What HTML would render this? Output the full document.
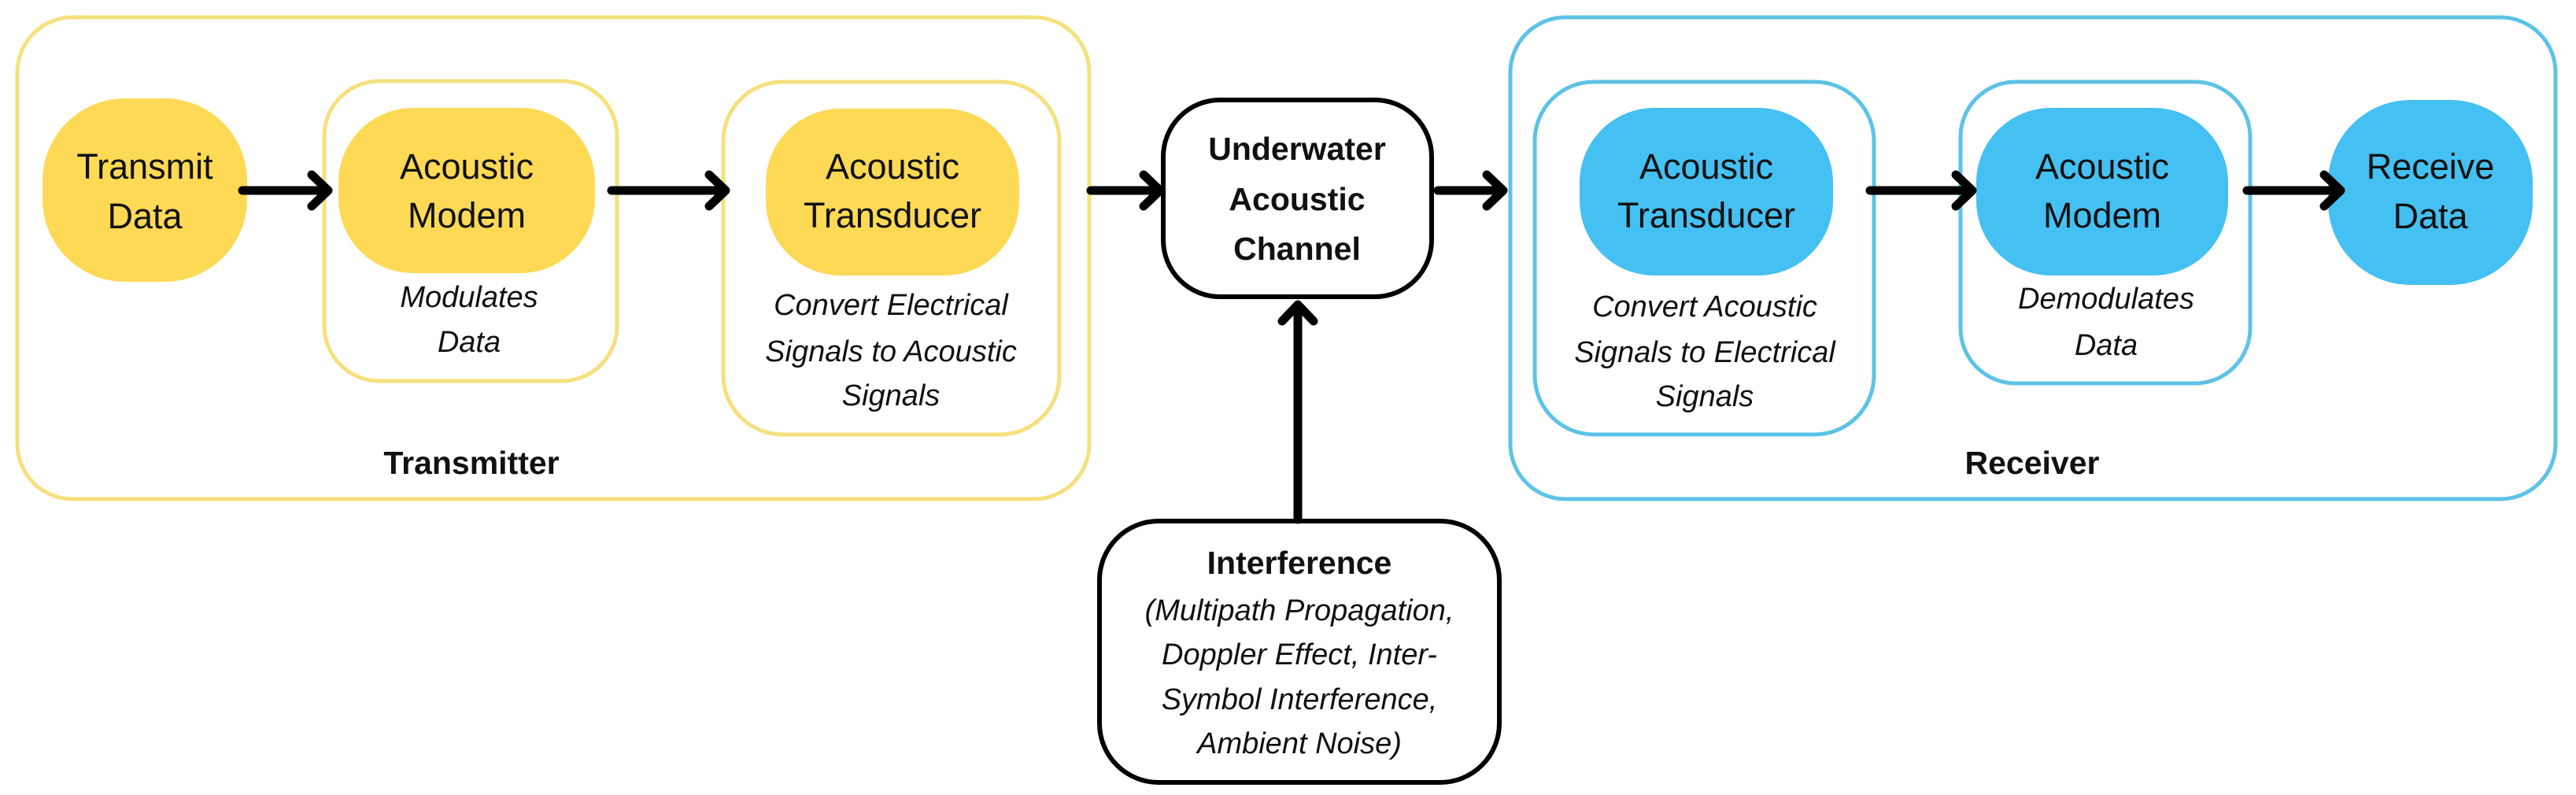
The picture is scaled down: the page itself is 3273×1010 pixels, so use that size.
<!DOCTYPE html>
<html><head><meta charset="utf-8"><style>
html,body{margin:0;padding:0;background:#fff;}
svg{display:block;}
text{font-family:"Liberation Sans",sans-serif;fill:#111;}
.n{font-size:45px;}
.i{font-size:38px;font-style:italic;}
.b{font-size:41px;font-weight:bold;}
</style></head><body>
<svg width="3273" height="1010" viewBox="0 0 3273 1010" xmlns="http://www.w3.org/2000/svg">
<rect x="0" y="0" width="3273" height="1010" fill="#fff"/>
<!-- Transmitter -->
<rect x="22" y="22" width="1362" height="612" rx="70" fill="none" stroke="#f6e07e" stroke-width="5"/>
<rect x="54" y="125" width="260" height="233" rx="105" fill="#fdd955"/>
<rect x="412" y="103" width="372" height="381" rx="70" fill="none" stroke="#f6e07e" stroke-width="5"/>
<rect x="430" y="137" width="326" height="210" rx="95" fill="#fdd955"/>
<rect x="919" y="104" width="427" height="448" rx="75" fill="none" stroke="#f6e07e" stroke-width="5"/>
<rect x="973" y="138" width="322" height="212" rx="95" fill="#fdd955"/>
<text class="n" x="184" y="227" text-anchor="middle">Transmit</text>
<text class="n" x="184" y="290" text-anchor="middle">Data</text>
<text class="n" x="593" y="227" text-anchor="middle">Acoustic</text>
<text class="n" x="593" y="289" text-anchor="middle">Modem</text>
<text class="i" x="596" y="390" text-anchor="middle">Modulates</text>
<text class="i" x="596" y="447" text-anchor="middle">Data</text>
<text class="n" x="1134" y="227" text-anchor="middle">Acoustic</text>
<text class="n" x="1134" y="289" text-anchor="middle">Transducer</text>
<text class="i" x="1132" y="400" text-anchor="middle">Convert Electrical</text>
<text class="i" x="1132" y="459" text-anchor="middle">Signals to Acoustic</text>
<text class="i" x="1132" y="515" text-anchor="middle">Signals</text>
<text class="b" x="599" y="602" text-anchor="middle">Transmitter</text>
<!-- Receiver -->
<rect x="1919" y="22" width="1328" height="612" rx="70" fill="none" stroke="#5cc3e6" stroke-width="5"/>
<rect x="1950" y="104" width="431" height="448" rx="75" fill="none" stroke="#5cc3e6" stroke-width="5"/>
<rect x="2007" y="137" width="322" height="213" rx="95" fill="#45c0f2"/>
<rect x="2491" y="104" width="368" height="383" rx="70" fill="none" stroke="#5cc3e6" stroke-width="5"/>
<rect x="2511" y="137" width="320" height="213" rx="95" fill="#45c0f2"/>
<rect x="2958" y="127" width="260" height="235" rx="105" fill="#45c0f2"/>
<text class="n" x="2168" y="227" text-anchor="middle">Acoustic</text>
<text class="n" x="2168" y="289" text-anchor="middle">Transducer</text>
<text class="i" x="2166" y="402" text-anchor="middle">Convert Acoustic</text>
<text class="i" x="2166" y="460" text-anchor="middle">Signals to Electrical</text>
<text class="i" x="2166" y="516" text-anchor="middle">Signals</text>
<text class="n" x="2671" y="227" text-anchor="middle">Acoustic</text>
<text class="n" x="2671" y="289" text-anchor="middle">Modem</text>
<text class="i" x="2676" y="392" text-anchor="middle">Demodulates</text>
<text class="i" x="2676" y="451" text-anchor="middle">Data</text>
<text class="n" x="3088" y="227" text-anchor="middle">Receive</text>
<text class="n" x="3088" y="290" text-anchor="middle">Data</text>
<text class="b" x="2582" y="602" text-anchor="middle">Receiver</text>
<!-- Channel -->
<rect x="1478" y="127" width="341" height="250" rx="72" fill="#fff" stroke="#000" stroke-width="6"/>
<text class="b" x="1648" y="203" text-anchor="middle">Underwater</text>
<text class="b" x="1648" y="267" text-anchor="middle">Acoustic</text>
<text class="b" x="1648" y="330" text-anchor="middle">Channel</text>
<!-- Interference -->
<rect x="1397" y="662" width="508" height="332" rx="75" fill="#fff" stroke="#000" stroke-width="6"/>
<text class="b" x="1651" y="729" text-anchor="middle">Interference</text>
<text class="i" x="1651" y="788" text-anchor="middle">(Multipath Propagation,</text>
<text class="i" x="1651" y="844" text-anchor="middle">Doppler Effect, Inter-</text>
<text class="i" x="1651" y="901" text-anchor="middle">Symbol Interference,</text>
<text class="i" x="1651" y="957" text-anchor="middle">Ambient Noise)</text>
<!-- Arrows -->
<g stroke="#000" stroke-width="11" fill="none" stroke-linecap="round" stroke-linejoin="round">
<line x1="308" y1="242" x2="414" y2="242"/><polyline points="396,222 417,242 396,262"/>
<line x1="777" y1="242" x2="919" y2="242"/><polyline points="901,222 922,242 901,262"/>
<line x1="1386" y1="242" x2="1471" y2="242"/><polyline points="1453,222 1474,242 1453,262"/>
<line x1="1827" y1="242" x2="1907" y2="242"/><polyline points="1889,222 1910,242 1889,262"/>
<line x1="2376" y1="242" x2="2503" y2="242"/><polyline points="2485,222 2506,242 2485,262"/>
<line x1="2855" y1="242" x2="2971" y2="242"/><polyline points="2953,222 2974,242 2953,262"/>
<line x1="1649" y1="660" x2="1649" y2="390"/><polyline points="1629,408 1649,387 1669,408"/>
</g>
</svg>
</body></html>
